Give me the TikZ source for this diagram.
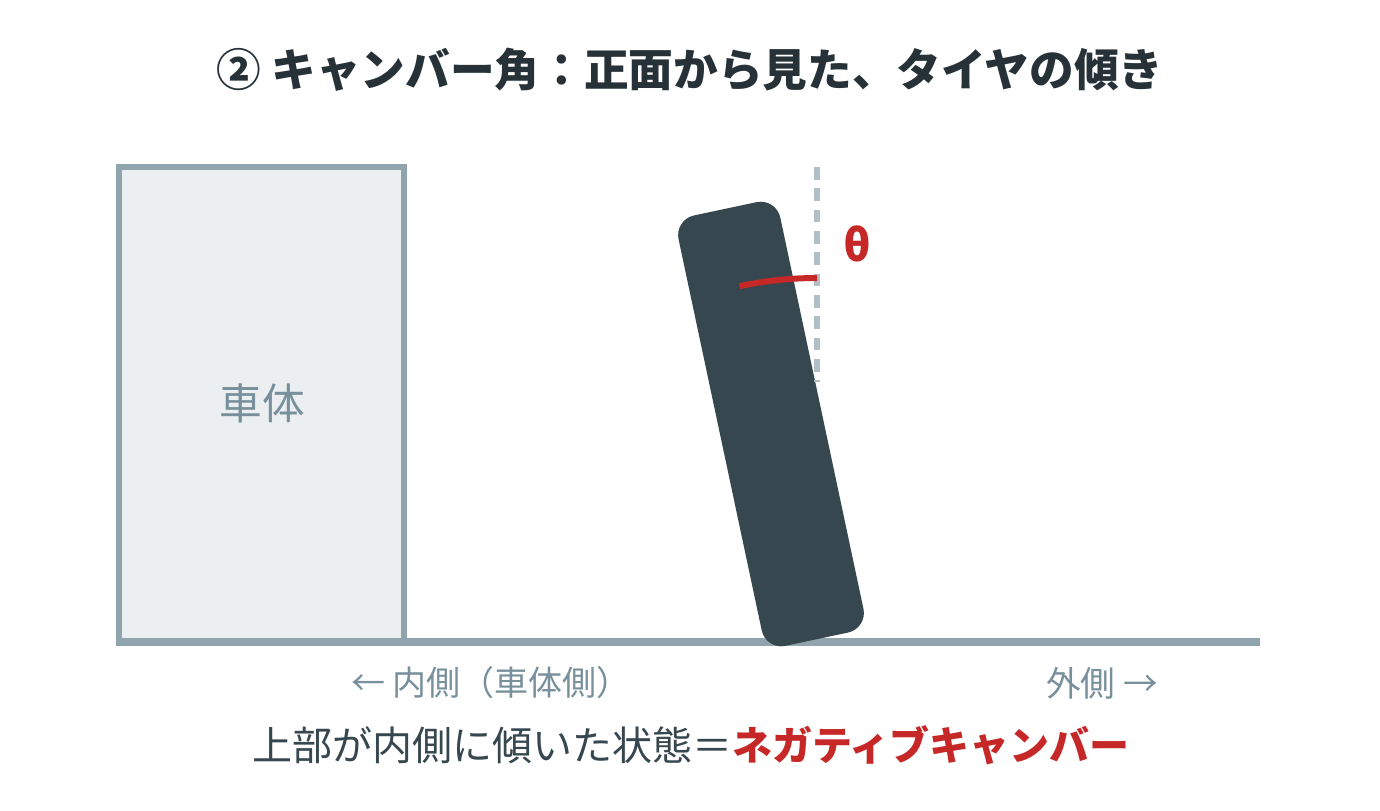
\documentclass[tikz,border=0pt]{standalone}
\usepackage{fontspec}
\setmainfont{Noto Sans CJK JP}
\usepackage{xcolor}
\usepackage{tikz}
\usetikzlibrary{calc}

\definecolor{bodyline}{HTML}{90A4AE}
\definecolor{bodyfill}{HTML}{ECEFF1}
\definecolor{tirecol}{HTML}{37474F}
\definecolor{guide}{HTML}{B0BEC5}
\definecolor{camber}{HTML}{C62828}
\definecolor{labelcol}{HTML}{78909C}
\definecolor{titlecol}{HTML}{263238}

\begin{document}
\begin{tikzpicture}[x=0.75pt,y=-0.75pt,every node/.style={inner sep=0pt}]

\useasboundingbox[fill=white] (0,0) rectangle (1380,810);

\pgfmathsetmacro{\TILT}{12}
\pgfmathsetmacro{\GY}{642}
\pgfmathsetmacro{\VX}{817}
\pgfmathsetmacro{\RAD}{372}

% title
\draw (690,70) node (title) {\fontsize{33.5}{38}\selectfont\bfseries\color{titlecol}{② キャンバー角：正面から見た、タイヤの傾き}};

% car body
\draw[line width=4.5pt,bodyline,fill=bodyfill] (119,\GY) |- (404,166.5) -- (404,\GY);
\draw (262,403) node (body) {\fontsize{32}{36}\selectfont\color{labelcol}{車体}};

% ground
\draw[line width=6pt,bodyline] (116,\GY)--(1260,\GY);

% tire, tilted inwards
\begin{scope}[shift={(771,424)},rotate=\TILT]
\fill[tirecol,rounded corners=15pt] (-52,-220) rectangle (52,220);
\end{scope}

% vertical reference and camber angle
\coordinate (pivot) at (\VX,650);
\draw[guide,line width=3.8pt,dash pattern=on 9.5pt off 6.5pt] (\VX,167)--(\VX,382);
\draw[camber,line width=4.5pt] (pivot) ++(-90:\RAD) arc[start angle=-90,end angle={-90-\TILT},radius=\RAD];
\draw (857,244) node (theta) {\fontsize{33}{36}\selectfont\bfseries\color{camber}{θ}};

% side annotations
\draw (491,683) node (inner) {\fontsize{25.5}{30}\selectfont\color{labelcol}{← 内側（車体側）}};
\draw (1102,683) node (outer) {\fontsize{26}{30}\selectfont\color{labelcol}{外側 →}};

% caption
\draw (691,745) node (caption) {\fontsize{30}{34}\selectfont\color{tirecol}{上部が内側に傾いた状態＝}\bfseries\color{camber}{ネガティブキャンバー}};
\end{tikzpicture}
\end{document}
